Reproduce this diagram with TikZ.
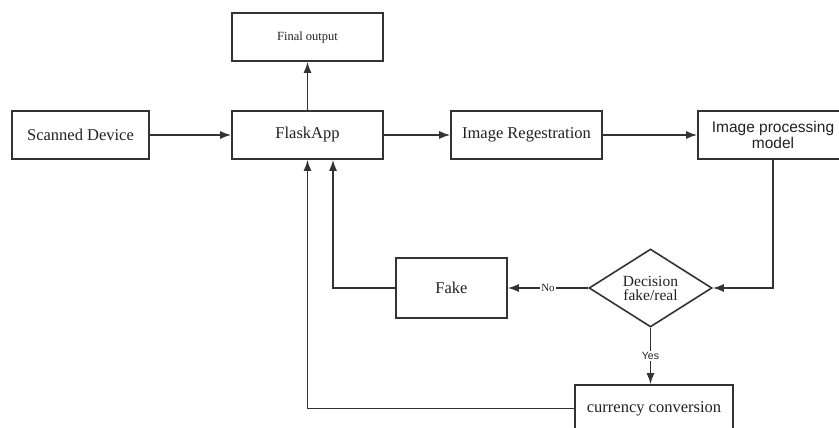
\documentclass[tikz,border=0pt]{standalone}
\usepackage{fontspec}
\setmainfont{Liberation Serif}
\newfontfamily\sansf{Liberation Sans}
\usetikzlibrary{shapes.geometric,arrows.meta}
\definecolor{ln}{HTML}{333333}
\definecolor{tx}{HTML}{222222}
\tikzset{
  blk/.style={draw=ln, line width=1.6pt, rectangle, inner sep=2pt, text=tx, align=center,
              font=\fontsize{16.5}{19}\selectfont},
  con/.style={draw=ln, line width=1.6pt},
  arr/.style={con, -{Latex[length=11pt,width=8pt]}},
  lbl/.style={fill=white, inner sep=1pt, text=tx}
}
\begin{document}
\begin{tikzpicture}[x=1pt,y=-1pt]
\useasboundingbox (0,0) rectangle (839,428);
\fill[white] (0,0) rectangle (839,428);
\node[blk, minimum width=137pt, minimum height=48pt] (scan) at (80.5,135) {Scanned Device};
\node[blk, minimum width=151pt, minimum height=48pt] (flask) at (307.5,135) {FlaskApp};
\node[blk, minimum width=151pt, minimum height=48pt, font=\fontsize{12.5}{15}\selectfont] (final) at (307.5,37) {Final output};
\node[blk, minimum width=151pt, minimum height=48pt] (reg) at (526.5,135) {Image Regestration};
\node[blk, minimum width=150pt, minimum height=48pt, font=\sansf\fontsize{15.5}{16}\selectfont] (ipm) at (773,135) {Image processing\\model};
\node[blk, minimum width=111pt, minimum height=60pt] (fake) at (451.5,288) {Fake};
\node[blk, diamond, aspect=1.58, inner sep=0pt, minimum width=123pt, minimum height=78pt, font=\fontsize{15.5}{14}\selectfont] (dec) at (650.5,288) {Decision\\fake/real};
\node[blk, minimum width=158pt, minimum height=47pt] (cur) at (654,408.5) {currency conversion};

\draw[arr] (scan) -- (flask);
\draw[arr] (flask) -- (reg);
\draw[arr] (reg) -- (ipm);
\draw[arr] (flask) -- (final);
\draw[arr] (ipm.south) |- (dec.east);
\draw[arr] (dec.west) -- node[lbl, font=\fontsize{11}{13}\selectfont]{No} (fake.east);
\draw[arr] (dec.south) -- node[lbl, font=\sansf\fontsize{10.5}{12}\selectfont]{Yes} (dec.south |- cur.north);
\coordinate (fk) at ([xshift=25.5pt]flask.south);
\draw[arr] (fake.west) -| (fk);
\draw[arr] (cur.west) -| (flask.south);
\end{tikzpicture}
\end{document}
